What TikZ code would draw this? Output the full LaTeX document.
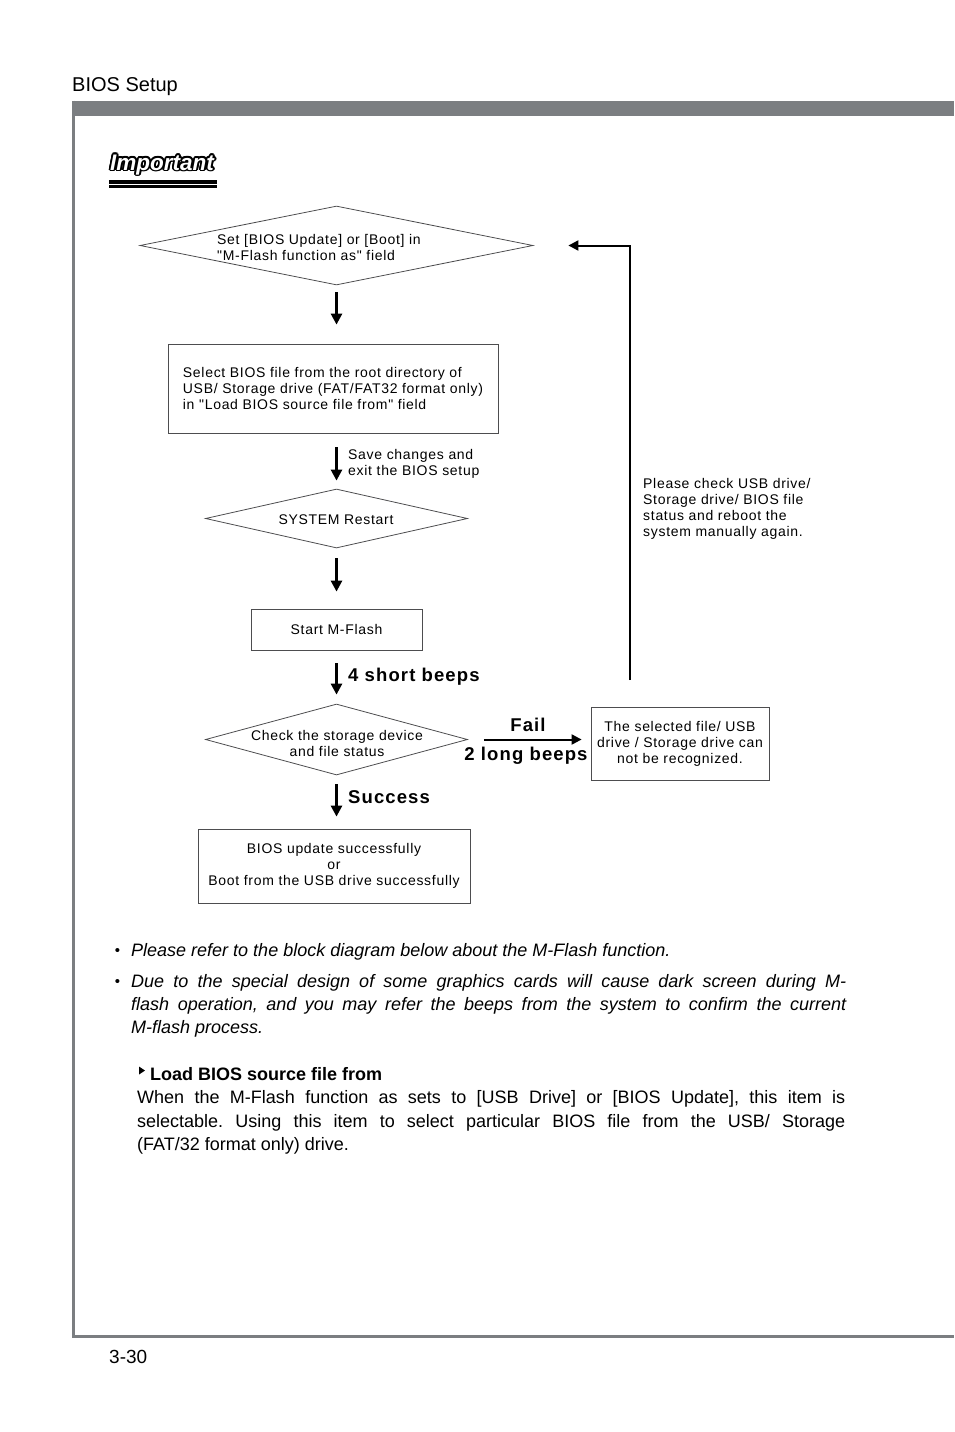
\documentclass[tikz,border=0pt]{standalone}
\usepackage{fontspec}
\setmainfont{Liberation Sans}
\newfontfamily\chartfont[LetterSpace=5]{Liberation Sans}
\newfontfamily\beepfont[LetterSpace=6]{Liberation Sans}
\usetikzlibrary{shapes.geometric,arrows.meta,calc}
\frenchspacing

\definecolor{framegray}{HTML}{7B7E81}
\definecolor{boxgray}{HTML}{4D4D4F}

\tikzset{
  chartbox/.style={shape=rectangle,draw=boxgray,line width=0.8pt,inner sep=0pt,
    font=\chartfont\fontsize{14}{16}\selectfont},
  chartdiam/.style={shape=diamond,draw=boxgray,line width=0.8pt,inner sep=0pt},
  charttext/.style={inner sep=0pt,font=\chartfont\fontsize{14}{16}\selectfont},
  beeptext/.style={inner sep=0pt,font=\beepfont\bfseries\fontsize{18.5}{20}\selectfont},
  downarrow/.style={-{Triangle[width=11pt,length=11pt]},line width=2.6pt},
  sidearrow/.style={-{Triangle[width=10pt,length=10pt]},line width=2pt},
  notetext/.style={inner sep=0pt,anchor=base west,font=\fontsize{18}{23}\selectfont\itshape},
  bodytext/.style={inner sep=0pt,anchor=base west,font=\fontsize{18}{23}\selectfont},
  implogo/.style={inner sep=0pt,anchor=base west,font=\fontsize{22.5}{22}\selectfont\bfseries\itshape},
}

\begin{document}
\begin{tikzpicture}[x=1pt,y=-1pt]
\useasboundingbox (0,0) rectangle (954,1432);

% page frame
\node[inner sep=0pt,anchor=base west,font=\fontsize{20}{24}\selectfont] (header) at (72,91) {BIOS Setup};
\fill[framegray] (72.3,100.7) rectangle (954,115.7);
\draw[framegray,line width=2.7pt] (73.7,100.7) -- (73.7,1336.7) -- (954,1336.7);
\node[inner sep=0pt,anchor=base west,font=\fontsize{19}{23}\selectfont] (pageno) at (109,1363) {3-30};

% Important logo
\foreach \a [count=\i] in {0,30,...,330}
  \node[implogo,text=black] (impshade\i) at ($(110,170)+(\a:1.9)$) {Important};
\node[implogo,text=white] (important) at (110,170) {Important};
\fill (109,180) rectangle (217,184);
\fill (109,185.3) rectangle (217,188);

% flow chart
\node[chartdiam,minimum width=393pt,minimum height=79pt] (D1) at (336.5,245.5) {};
\node[charttext,align=left,anchor=west] (D1text) at (217,247) {Set [BIOS Update] or [Boot] in\\"M-Flash function as" field};

\node[chartbox,align=left,minimum width=330pt,minimum height=89pt] (B1) at (333,388.5)
  {Select BIOS file from the root directory of\\USB/ Storage drive (FAT/FAT32 format only)\\in "Load BIOS source file from" field};
\draw[downarrow,shorten <=7pt,shorten >=19pt] (D1.south) -- (D1.south |- B1.north);

\node[chartdiam,minimum width=262pt,minimum height=59pt] (D2) at (336.5,518.5) {};
\node[charttext] (D2text) at (336,520) {SYSTEM Restart};
\draw[downarrow,shorten <=14pt,shorten >=8pt] (D2.north |- B1.south) -- (D2.north);
\node[charttext,align=left,anchor=west] (savelabel) at (348,464) {Save changes and\\exit the BIOS setup};

\node[chartbox,minimum width=171pt,minimum height=41pt] (B2) at (336.5,629.5) {Start M-Flash};
\draw[downarrow,shorten <=10pt,shorten >=17pt] (D2.south) -- (B2.north);

\node[chartdiam,minimum width=262pt,minimum height=71pt] (D3) at (336.5,739.5) {};
\node[charttext,align=center] (D3text) at (337,743.5) {Check the storage device\\and file status};
\draw[downarrow,shorten <=13pt,shorten >=9pt] (B2.south) -- (D3.north);
\node[beeptext,anchor=west] (shortbeeps) at (348,677) {4 short beeps};

\node[chartbox,align=center,minimum width=272pt,minimum height=74pt] (B3) at (334,866)
  {BIOS update successfully\\or\\Boot from the USB drive successfully};
\draw[downarrow,shorten <=9pt,shorten >=12pt] (D3.south) -- (D3.south |- B3.north);
\node[beeptext,anchor=west] (success) at (348,797) {Success};

\node[chartbox,align=center,minimum width=178pt,minimum height=73pt] (B4) at (680,743.5)
  {The selected file/ USB\\drive / Storage drive can\\not be recognized.};
\draw[sidearrow,shorten <=16pt,shorten >=9pt] (D3.east) -- (D3.east -| B4.west);
\node[beeptext] (fail) at (528,725) {Fail};
\node[beeptext] (longbeeps) at (526,756) {2 long beeps};

\coordinate (retry) at (630,680);
\draw[sidearrow,shorten >=35pt] (retry) |- (D1.east);
\node[charttext,align=left,anchor=west] (retrytext) at (643,508.5)
  {Please check USB drive/\\Storage drive/ BIOS file\\status and reboot the\\system manually again.};

% notes
\node[inner sep=0pt,anchor=base,font=\fontsize{15}{15}\selectfont] (dot1) at (117.5,955) {\textbullet};
\node[notetext] (note1) at (131,956) {Please refer to the block diagram below about the M-Flash function.};
\node[inner sep=0pt,anchor=base,font=\fontsize{15}{15}\selectfont] (dot2) at (117.5,986) {\textbullet};
\node[notetext] (note2) at (131,987) {\makebox[715pt][s]{Due to the special design of some graphics cards will cause dark screen during M-}};
\node[notetext] (note3) at (131,1010) {\makebox[715pt][s]{flash operation, and you may refer the beeps from the system to confirm the current}};
\node[notetext] (note4) at (131,1033) {M-flash process.};

\fill (139,1066.5) -- (145,1070.5) -- (139,1074.5) -- cycle;
\node[bodytext,font=\fontsize{18}{23}\selectfont\bfseries] (loadhead) at (150,1080) {Load BIOS source file from};
\node[bodytext] (body1) at (137,1103) {\makebox[708pt][s]{When the M-Flash function as sets to [USB Drive] or [BIOS Update], this item is}};
\node[bodytext] (body2) at (137,1127) {\makebox[708pt][s]{selectable. Using this item to select particular BIOS file from the USB/ Storage}};
\node[bodytext] (body3) at (137,1150.5) {(FAT/32 format only) drive.};
\end{tikzpicture}
\end{document}
